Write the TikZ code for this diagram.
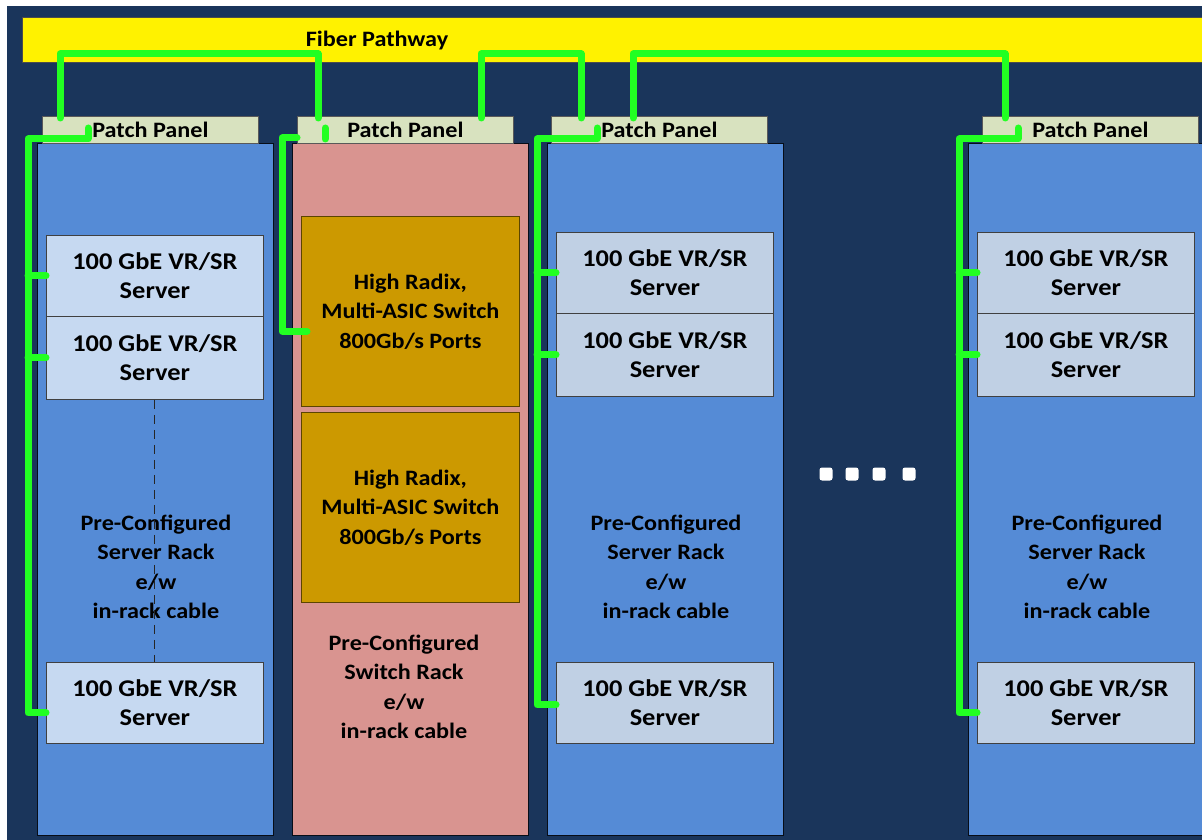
\documentclass[tikz,border=0pt]{standalone}
\usepackage{fontspec}
\setmainfont{Carlito}[FakeStretch=1.1]
\usetikzlibrary{positioning}

\definecolor{navy}{HTML}{1A355B}
\definecolor{rackblue}{HTML}{558BD6}
\definecolor{rackpink}{HTML}{D99490}
\definecolor{panelgreen}{HTML}{D8E2BF}
\definecolor{srvlight}{HTML}{C6D9F1}
\definecolor{srvgrey}{HTML}{C0D0E4}
\definecolor{asicgold}{HTML}{CC9900}
\definecolor{fibergreen}{HTML}{22FF22}

\newcommand{\bigtxt}{\fontsize{24}{29}\selectfont\bfseries}
\newcommand{\midtxt}{\fontsize{22}{29.5}\selectfont\bfseries}

\begin{document}
\begin{tikzpicture}[x=1pt,y=-1pt,
    rackbox/.style={draw=black!75!navy,line width=1pt,anchor=north west,
        minimum width=236pt,minimum height=692pt,inner sep=0pt},
    srvbox/.style={draw=black!75,line width=0.8pt,anchor=north west,
        minimum width=217pt,inner sep=0pt,align=center,font=\bigtxt},
    asicbox/.style={draw=black!55!asicgold,line width=0.8pt,fill=asicgold,
        anchor=north west,minimum width=218pt,minimum height=190pt,
        inner sep=0pt,align=center,font=\midtxt},
    panelbox/.style={draw=black!65,line width=0.8pt,fill=panelgreen,
        anchor=north west,minimum width=216pt,minimum height=27pt,
        inner sep=0pt,font=\midtxt},
    racktxt/.style={align=center,font=\midtxt},
    cable/.style={color=fibergreen,line width=7pt,line cap=round,line join=round}]

        \useasboundingbox (0,0) rectangle (1202,840);
        \fill[white] (0,0) rectangle (1202,840);
        \fill[navy] (7,6) rectangle (1202,840);

        % fiber pathway
        \node[draw=black!70,line width=0.8pt,fill=yellow,anchor=north west,
            minimum width=1190pt,minimum height=45pt,inner sep=0pt] (fp) at (22,17) {};
        \node[font=\midtxt] (fpt) at (377,41) {Fiber Pathway};

        % racks
        \node[rackbox,fill=rackblue] (rack1) at (37,143) {};
        \node[rackbox,fill=rackpink] (rack2) at (292,143) {};
        \node[rackbox,fill=rackblue] (rack3) at (547,143) {};
        \node[rackbox,fill=rackblue] (rack4) at (968,143) {};

        % server racks
        \foreach \n/\x/\y/\c in {1/37/235/srvlight,3/547/232/srvgrey,4/968/232/srvgrey} {
            \node[srvbox,fill=\c,minimum height=81pt] (s\n-1) at (\x+9,\y) {100 GbE VR/SR\\Server};
            \node[srvbox,fill=\c,minimum height=83pt] (s\n-2) at (\x+9,\y+81) {100 GbE VR/SR\\Server};
            \node[srvbox,fill=\c,minimum height=81pt] (s\n-3) at (\x+9,662) {100 GbE VR/SR\\Server};
            \node[racktxt] (t\n) at (\x+119,567) {Pre-Configured\\Server Rack\\e/w\\in-rack cable};
        }
        \draw[black!85,line width=1pt,dash pattern=on 9pt off 6pt] (s1-2.south) -- (s1-3.north);

        % switch rack
        \node[asicbox] (sw1) at (301,216) {High Radix,\\Multi-ASIC Switch\\800Gb/s Ports};
        \node[asicbox] (sw2) at (301,412) {High Radix,\\Multi-ASIC Switch\\800Gb/s Ports};
        \node[racktxt] (t2) at (404,687) {Pre-Configured\\Switch Rack\\e/w\\in-rack cable};

        % patch panels
        \node[panelbox] (pp1) at (42,116) {Patch Panel};
        \node[panelbox] (pp2) at (297,116) {Patch Panel};
        \node[panelbox] (pp3) at (551,116) {Patch Panel};
        \node[panelbox] (pp4) at (982,116) {Patch Panel};

        % more racks
        \foreach \x in {826,852,879,909} {
            \fill[white,rounded corners=2.5pt] (\x-6.5,467.5) rectangle ++(13,13);
        }

        % in-rack cables
        \foreach \n/\sx/\px/\dy in {1/28/88/10,3/537/597/2,4/959/1018/10} {
            \path (\sx,139) coordinate (sp\n);
            \draw[cable] (\px,128) -- (\px,139) -- (sp\n) |- ([yshift=-\dy pt]s\n-3.west);
            \draw[cable] (sp\n |- s\n-1.west) -- (s\n-1.west);
            \draw[cable] (sp\n |- s\n-2.west) -- (s\n-2.west);
        }
        \path (282,138) coordinate (sp2);
        \draw[cable] (325,128) -- (325,139);
        \draw[cable] (pp2.south west |- sp2) -- (sp2) |- ([xshift=6pt,yshift=-20pt]sw1.west);

        % fiber links
        \path (60,118) coordinate (f1a);
        \path (318,118) coordinate (f1b);
        \path (481,118) coordinate (f2a);
        \path (581,118) coordinate (f2b);
        \path (633,118) coordinate (f3a);
        \path (1005,118) coordinate (f3b);
        \foreach \k in {1,2,3} {
            \draw[cable] (f\k a) -- ++(0,-64) -| (f\k b);
        }

    \end{tikzpicture}
\end{document}
